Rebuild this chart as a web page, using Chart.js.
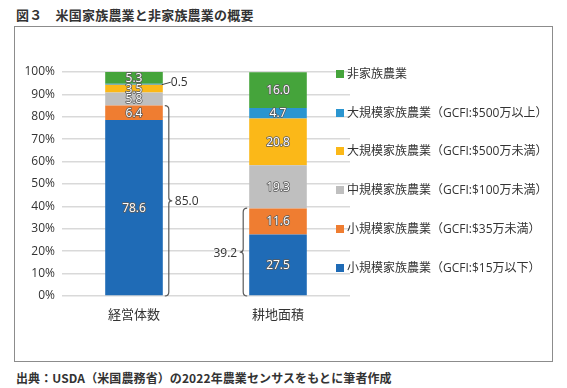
<!DOCTYPE html>
<html><head><meta charset="utf-8">
<script src="https://cdn.jsdelivr.net/npm/chart.js@4/dist/chart.umd.min.js"></script>
<style>
html,body{margin:0;padding:0;background:#fff;width:567px;height:388px;overflow:hidden;}
#title{position:absolute;left:16px;top:5px;font:bold 13px "Noto Sans CJK JP",sans-serif;color:#333;letter-spacing:0.2px;white-space:nowrap;}
#frame{position:absolute;left:14px;top:26px;width:537px;height:334px;border:1.5px solid #8c8c8c;}
#src{position:absolute;left:16px;top:369px;font:bold 12px "Noto Sans CJK JP",sans-serif;color:#333;letter-spacing:0.1px;white-space:nowrap;}
#wrap{position:absolute;left:0;top:0;width:567px;height:388px;}
</style></head>
<body>
<div id="title">図３　米国家族農業と非家族農業の概要</div>
<div id="frame"></div>
<div id="src">出典：USDA（米国農務省）の2022年農業センサスをもとに筆者作成</div>
<div id="wrap"><canvas id="c" width="567" height="388"></canvas></div>
<script>
const categories = ['経営体数', '耕地面積'];
const seriesNames = [
  '小規模家族農業（GCFI:$15万以下）',
  '小規模家族農業（GCFI:$35万未満）',
  '中規模家族農業（GCFI:$100万未満）',
  '大規模家族農業（GCFI:$500万未満）',
  '大規模家族農業（GCFI:$500万以上）',
  '非家族農業'
];
const small15 = [78.6, 27.5];
const small35 = [6.4, 11.6];
const medium = [5.8, 19.3];
const large500u = [3.5, 20.8];
const large500o = [0.5, 4.7];
const nonFamily = [5.3, 16.0];
const braceTotals = [85.0, 39.2];
const yTicks = [0,10,20,30,40,50,60,70,80,90,100];
const colors = ['#1f6bb6', '#ef7d31', '#bfbfbf', '#fbb818', '#2a95d0', '#45a43b'];
const seriesValues = [small15, small35, medium, large500u, large500o, nonFamily];

const FONT = '"Open Sans","Noto Sans CJK JP",sans-serif';

const overlay = {
  id: 'overlay',
  afterDatasetsDraw(chart) {
    const ctx = chart.ctx;
    const ys = chart.scales.y;
    ctx.save();
    ctx.font = '12px ' + FONT;
    ctx.textAlign = 'center';
    ctx.textBaseline = 'middle';
    ctx.lineJoin = 'round';
    chart.data.datasets.forEach((ds, di) => {
      const meta = chart.getDatasetMeta(di);
      meta.data.forEach((el, i) => {
        const v = ds.data[i];
        const txt = v.toFixed(1);
        if (v < 1) {
          const yy = (el.y + el.base) / 2;
          ctx.strokeStyle = '#404040';
          ctx.lineWidth = 1;
          ctx.beginPath();
          ctx.moveTo(el.x + el.width / 2 - 1, yy + 0.5);
          ctx.lineTo(el.x + el.width / 2 + 8, yy - 2);
          ctx.stroke();
          ctx.fillStyle = '#333';
          ctx.textAlign = 'left';
          ctx.fillText(txt, el.x + el.width / 2 + 8, yy - 2);
          ctx.textAlign = 'center';
          return;
        }
        const cy = (el.y + el.base) / 2;
        ctx.strokeStyle = '#5a5a5a';
        ctx.lineWidth = 1.6;
        ctx.strokeText(txt, el.x, cy + 0.5);
        ctx.fillStyle = '#fff';
        ctx.fillText(txt, el.x, cy + 0.5);
      });
    });
    ctx.strokeStyle = '#5a5a5a';
    ctx.lineWidth = 1.2;
    ctx.fillStyle = '#333';
    ctx.font = '12px ' + FONT;
    const m0 = chart.getDatasetMeta(0).data;
    function brace(xEdge, dir, v, label) {
      const top = ys.getPixelForValue(v);
      const bot = ys.getPixelForValue(0);
      const mid = (top + bot) / 2;
      const x0 = xEdge + dir * 2, x1 = xEdge + dir * 6, x2 = xEdge + dir * 9;
      ctx.beginPath();
      ctx.moveTo(x0, top);
      ctx.quadraticCurveTo(x1, top, x1, top + 4);
      ctx.lineTo(x1, mid - 3);
      ctx.quadraticCurveTo(x1, mid, x2, mid);
      ctx.quadraticCurveTo(x1, mid, x1, mid + 3);
      ctx.lineTo(x1, bot - 4);
      ctx.quadraticCurveTo(x1, bot, x0, bot);
      ctx.stroke();
      ctx.textAlign = dir > 0 ? 'left' : 'right';
      ctx.textBaseline = 'middle';
      ctx.fillText(label, x2 + dir * 3, mid + 1);
    }
    brace(m0[0].x + m0[0].width / 2, 1, braceTotals[0], braceTotals[0].toFixed(1));
    brace(m0[1].x - m0[1].width / 2, -1, braceTotals[1], braceTotals[1].toFixed(1));
    const legY = [74, 113, 151, 190, 229, 268];
    ctx.font = '12px ' + FONT;
    ctx.textAlign = 'left';
    ctx.textBaseline = 'middle';
    for (let k = 0; k < 6; k++) {
      const di = 5 - k;
      ctx.fillStyle = colors[di];
      ctx.fillRect(336, legY[k] - 4, 8, 8);
      ctx.fillStyle = '#333';
      ctx.fillText(seriesNames[di], 347, legY[k] + 1);
    }
    ctx.restore();
  }
};

new Chart(document.getElementById('c'), {
  type: 'bar',
  data: {
    labels: categories,
    datasets: seriesValues.map((vals, i) => ({
      label: seriesNames[i],
      data: vals,
      backgroundColor: colors[i],
      borderWidth: 0,
      barPercentage: 0.4,
      categoryPercentage: 1.0
    }))
  },
  options: {
    responsive: false,
    animation: false,
    devicePixelRatio: 1,
    layout: { padding: { left: 0, top: 72, right: 217, bottom: 62 } },
    plugins: { legend: { display: false }, tooltip: { enabled: false } },
    scales: {
      x: {
        stacked: true,
        grid: { display: false, drawTicks: false },
        border: { display: false },
        ticks: { color: '#333', font: { size: 13, family: FONT }, padding: 11 },
        afterFit(s) { s.height = 30; }
      },
      y: {
        stacked: true,
        min: 0, max: 100,
        afterBuildTicks(s) { s.ticks = yTicks.map(v => ({ value: v })); },
        grid: { color: '#d9d9d9', lineWidth: 1.5, drawTicks: false },
        border: { display: false },
        ticks: { color: '#333', font: { size: 12, family: FONT }, padding: 7, callback: v => v + '%' },
        afterFit(s) { s.width = 62; }
      }
    }
  },
  plugins: [overlay]
});
</script>
</body></html>
